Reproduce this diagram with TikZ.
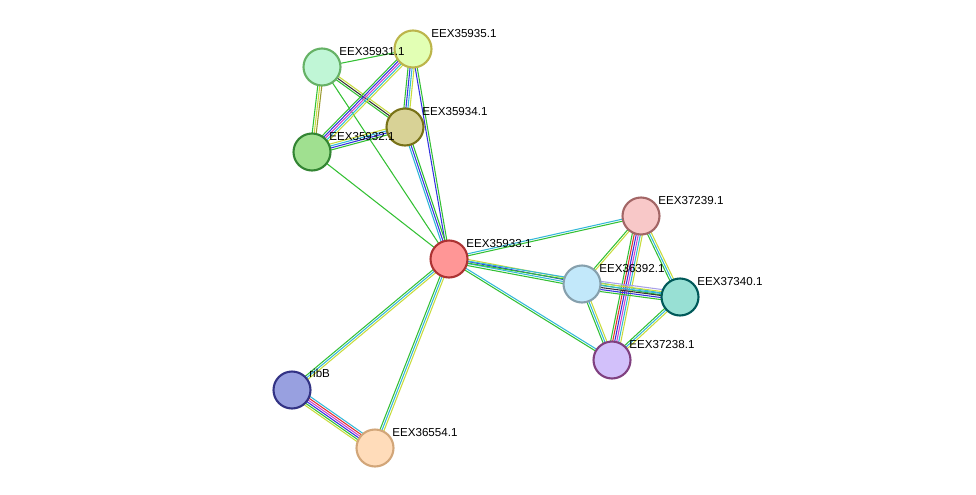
\documentclass[tikz,border=0pt]{standalone}
\usepackage{fontspec}
\setmainfont{Liberation Sans}
\usetikzlibrary{calc}
\definecolor{cg}{HTML}{33C033}
\definecolor{cb}{HTML}{3333E0}
\definecolor{cc}{HTML}{33B8D8}
\definecolor{cy}{HTML}{C8DC3C}
\definecolor{ck}{HTML}{333333}
\definecolor{cmg}{HTML}{D040D0}
\definecolor{cr}{HTML}{E03030}
\definecolor{cl}{HTML}{A8A0E8}
\definecolor{co}{HTML}{9A9A30}
\tikzset{x=0.02cm,y=-0.02cm,
 prot/.style={circle,inner sep=0pt,line width=1.2pt,minimum size=0.74cm},
 lab/.style={anchor=south west,inner sep=0pt,font=\fontsize{6.6}{7}\selectfont}}
\newcommand\sedge[3]{%
 \foreach \c [count=\i] in {#3}{%
  \pgfmathsetmacro\off{(\i-0.5-0.5*\n)*1.15}%
  \draw[draw=\c,line width=0.6pt] ($(#1)!\off pt!90:(#2)$) -- ($(#2)!\off pt!-90:(#1)$);}}
\begin{document}
\begin{tikzpicture}
\useasboundingbox (0,0) rectangle (976,494);
\coordinate (a) at (449,259);
\coordinate (n31) at (322,67);
\coordinate (n35) at (413,49);
\coordinate (n34) at (405,127);
\coordinate (n32) at (312,152);
\coordinate (n39) at (641,216);
\coordinate (n92) at (582,284);
\coordinate (n40) at (680,297);
\coordinate (n38) at (612,360);
\coordinate (rb) at (292,390);
\coordinate (n54) at (375,448);
\def\n{2}\sedge{a}{n35}{cg,cb}
\def\n{3}\sedge{a}{n34}{cg,cb,cc}
\def\n{1}\sedge{a}{n31}{cg}
\def\n{1}\sedge{a}{n32}{cg}
\def\n{1}\sedge{n31}{n35}{cg}
\def\n{3}\sedge{n31}{n34}{cg,ck,cy}
\def\n{3}\sedge{n31}{n32}{cg,cy,co}
\def\n{4}\sedge{n35}{n34}{cg,cb,cc,cy}
\def\n{5}\sedge{n35}{n32}{cg,cb,cmg,cc,cy}
\def\n{4}\sedge{n32}{n34}{cg,cb,cc,cy}
\def\n{2}\sedge{a}{n39}{cg,cc}
\def\n{4}\sedge{a}{n92}{cg,cc,cb,cy}
\def\n{2}\sedge{a}{n40}{cg,cc}
\def\n{2}\sedge{a}{n38}{cg,cc}
\def\n{3}\sedge{a}{rb}{cg,cc,cy}
\def\n{3}\sedge{a}{n54}{cg,cc,cy}
\def\n{6}\sedge{rb}{n54}{cy,cg,cb,cmg,cr,cc}
\def\n{2}\sedge{n39}{n92}{cg,cy}
\def\n{3}\sedge{n39}{n40}{cg,cc,cy}
\def\n{6}\sedge{n39}{n38}{cg,cr,cb,cmg,cc,cy}
\def\n{6}\sedge{n92}{n40}{cg,cb,ck,cc,cy,cl}
\def\n{3}\sedge{n92}{n38}{cg,cc,cy}
\def\n{3}\sedge{n40}{n38}{cg,cc,cy}
\node[prot,draw=red!60!black!80,fill={rgb,255:red,255;green,150;blue,150}] (A) at (a) {};
\node[prot,draw=green!50!black!60,fill={rgb,255:red,192;green,246;blue,214}] (N31) at (n31) {};
\node[prot,draw=olive!60,fill={rgb,255:red,226;green,255;blue,180}] (N35) at (n35) {};
\node[prot,draw=olive!80!black,fill={rgb,255:red,216;green,210;blue,150}] (N34) at (n34) {};
\node[prot,draw=green!40!black!80,fill={rgb,255:red,160;green,224;blue,144}] (N32) at (n32) {};
\node[prot,draw=red!40!black!60,fill={rgb,255:red,248;green,200;blue,200}] (N39) at (n39) {};
\node[prot,draw=cyan!40!black!60,fill={rgb,255:red,194;green,232;blue,250}] (N92) at (n92) {};
\node[prot,draw=teal!70!black,fill={rgb,255:red,152;green,224;blue,212}] (N40) at (n40) {};
\node[prot,draw=violet!50!gray,fill={rgb,255:red,210;green,192;blue,250}] (N38) at (n38) {};
\node[prot,draw=blue!40!black!80,fill={rgb,255:red,152;green,160;blue,224}] (RB) at (rb) {};
\node[prot,draw=brown!70,fill={rgb,255:red,255;green,220;blue,186}] (N54) at (n54) {};
\node[lab] at ($(a)+(17,-11)$) {EEX35933.1};
\node[lab] at ($(n31)+(17,-11)$) {EEX35931.1};
\node[lab] at ($(n35)+(18,-11)$) {EEX35935.1};
\node[lab] at ($(n34)+(17,-11)$) {EEX35934.1};
\node[lab] at ($(n32)+(17,-11)$) {EEX35932.1};
\node[lab] at ($(n39)+(17,-11)$) {EEX37239.1};
\node[lab] at ($(n92)+(17,-11)$) {EEX36392.1};
\node[lab] at ($(n40)+(17,-11)$) {EEX37340.1};
\node[lab] at ($(n38)+(17,-11)$) {EEX37238.1};
\node[lab] at ($(rb)+(17,-12)$) {ribB};
\node[lab] at ($(n54)+(17,-11)$) {EEX36554.1};
\end{tikzpicture}
\end{document}
